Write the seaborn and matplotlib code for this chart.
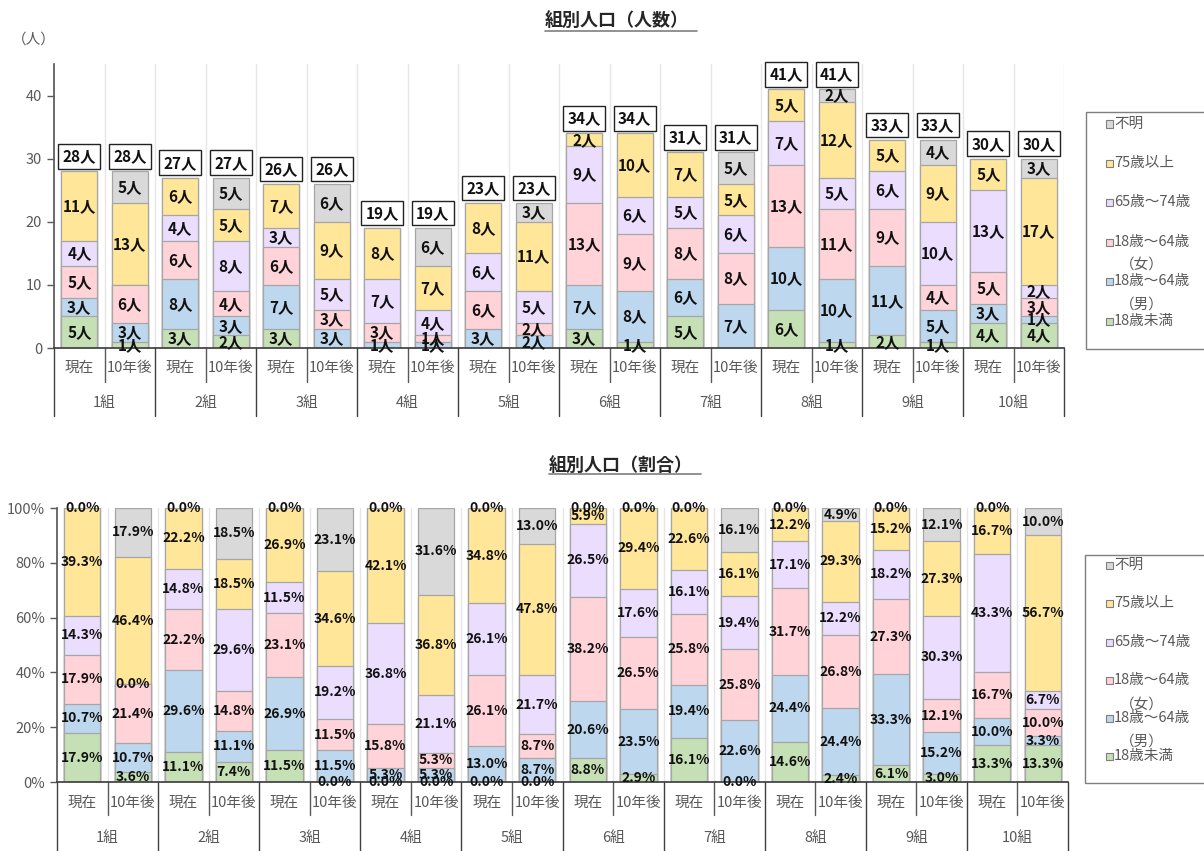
import numpy as np
import matplotlib
matplotlib.use('Agg')
from matplotlib import pyplot as plt
from matplotlib.patches import Rectangle
from matplotlib.lines import Line2D
from matplotlib.ticker import PercentFormatter
import matplotlib.transforms as mtransforms
import seaborn as sns

# ---- data (bars ordered 1組現在, 1組10年後, 2組現在, ...) ----
groups = ['1組', '2組', '3組', '4組', '5組', '6組', '7組', '8組', '9組', '10組']
periods = ['現在', '10年後']
series = ['18歳未満', '18歳～64歳（男）', '18歳～64歳（女）', '65歳～74歳', '75歳以上', '不明']

under18 = [5, 1, 3, 2, 3, 0, 0, 0, 0, 0, 3, 1, 5, 0, 6, 1, 2, 1, 4, 4]
male_18_64 = [3, 3, 8, 3, 7, 3, 1, 1, 3, 2, 7, 8, 6, 7, 10, 10, 11, 5, 3, 1]
female_18_64 = [5, 6, 6, 4, 6, 3, 3, 1, 6, 2, 13, 9, 8, 8, 13, 11, 9, 4, 5, 3]
age65_74 = [4, 0, 4, 8, 3, 5, 7, 4, 6, 5, 9, 6, 5, 6, 7, 5, 6, 10, 13, 2]
age75_over = [11, 13, 6, 5, 7, 9, 8, 7, 8, 11, 2, 10, 7, 5, 5, 12, 5, 9, 5, 17]
unknown = [0, 5, 0, 5, 0, 6, 0, 6, 0, 3, 0, 0, 0, 5, 0, 2, 0, 4, 0, 3]

colors = ['#C5E0B4', '#BDD7EE', '#FFD3D8', '#EADDFD', '#FFE699', '#D9D9D9']
EDGE = '#A6A6A6'
AXC = '#595959'

counts = np.array([under18, male_18_64, female_18_64, age65_74, age75_over, unknown], dtype=float)
totals = counts.sum(axis=0)
shares = counts / totals
bar_ids = [f'{g}{p}' for g in groups for p in periods]

sns.set_theme(style='white')
plt.rcParams['font.family'] = ['Noto Sans CJK JP', 'DejaVu Sans']

W, H = 1204, 851
fig = plt.figure(figsize=(W / 100, H / 100), dpi=100)


def px(x, y):
    return x / W, 1 - y / H


def draw_stacked(ax, values, fmt, show_zero, fs):
    cum = np.cumsum(values, axis=0)
    for k in range(len(series) - 1, -1, -1):
        sns.barplot(x=bar_ids, y=cum[k], order=bar_ids, color=colors[k], saturation=1,
                    width=0.72, edgecolor=EDGE, linewidth=0.9, errorbar=None, ax=ax)
    for k in range(len(series)):
        mid = cum[k] - values[k] / 2
        for i in range(len(bar_ids)):
            if values[k, i] == 0 and not show_zero:
                continue
            ax.text(i, mid[i], fmt(values[k, i]), ha='center', va='center',
                    fontsize=fs, fontweight='bold', color='#111111')
    ax.set_xlim(-0.5, len(bar_ids) - 0.5)
    ax.set_xlabel('')
    ax.set_ylabel('')
    ax.set_xticks([])
    ax.set_xticks(np.arange(0.5, len(bar_ids), 1), minor=True)
    ax.grid(axis='x', which='minor', color='#E6E6E6', lw=1)
    ax.tick_params(axis='x', which='both', length=0, labelbottom=False)
    ax.tick_params(axis='y', length=5, width=1, color=AXC, labelcolor=AXC, labelsize=10.5, left=True)
    for s in ['top', 'right']:
        ax.spines[s].set_visible(False)
    ax.spines['left'].set_color(AXC)
    ax.spines['bottom'].set_color('#404040')
    ax.set_axisbelow(True)


def draw_categories(ax, y_cat, y_grp, y_sep, y_gsep):
    tr = mtransforms.blended_transform_factory(ax.transData, ax.transAxes)
    for i, b in enumerate(bar_ids):
        ax.text(i, y_cat, periods[i % 2], transform=tr, ha='center', va='center',
                fontsize=10.5, color=AXC)
    for g, name in enumerate(groups):
        ax.text(2 * g + 0.5, y_grp, name, transform=tr, ha='center', va='center',
                fontsize=10.5, color=AXC)
        ax.add_line(Line2D([2 * g + 0.5, 2 * g + 0.5], [0, y_sep], transform=tr,
                           color=AXC, lw=1, clip_on=False))
    for g in range(len(groups) + 1):
        ax.add_line(Line2D([2 * g - 0.5, 2 * g - 0.5], [0, y_gsep], transform=tr,
                           color='#404040', lw=1, clip_on=False))


def draw_legend(box, entries_y, second_y):
    x0, y0, x1, y1 = box
    fig.add_artist(Rectangle(px(x0, y1), (x1 - x0) / W, (y1 - y0) / H,
                             transform=fig.transFigure, fc='white', ec='#7F7F7F', lw=1))
    order = list(range(len(series) - 1, -1, -1))
    for yy, k in zip(entries_y, order):
        fig.add_artist(Rectangle(px(1106, yy + 3.5), 7 / W, 7 / H, transform=fig.transFigure,
                                 fc=colors[k], ec='#7F7F7F', lw=0.8))
        name = series[k]
        if '（' in name:
            first, second = name.split('（')
            fig.text(*px(1114, yy), first, ha='left', va='center', fontsize=10.5, color=AXC)
            fig.text(*px(1142, second_y[k]), '（' + second, ha='center', va='center',
                     fontsize=10.5, color=AXC)
        else:
            fig.text(*px(1114, yy), name, ha='left', va='center', fontsize=10.5, color=AXC)


def underlined_title(x, y, text, y_line):
    t = fig.text(*px(x, y), text, ha='center', va='center', fontsize=13,
                 fontweight='bold', color='#262626')
    fig.canvas.draw()
    bb = t.get_window_extent()
    fig.add_artist(Line2D([bb.x0 / W, bb.x1 / W + 8 / W], [1 - y_line / H] * 2,
                          transform=fig.transFigure, color='#7F7F7F', lw=1.2))


# ---- top chart: counts ----
ax1 = fig.add_axes([54 / W, 1 - 348 / H, 1010 / W, 284 / H])
draw_stacked(ax1, counts, lambda v: f'{int(v)}人', False, 11)
ax1.set_ylim(0, 45)
ax1.set_yticks(range(0, 41, 10))
for i, tot in enumerate(totals):
    ax1.annotate(f'{int(tot)}人', (i, tot), xytext=(0, 5), textcoords='offset points',
                 ha='center', va='bottom', fontsize=11, fontweight='bold', color='#111111',
                 bbox=dict(boxstyle='square,pad=0.28', fc='white', ec='#222222', lw=1))
draw_categories(ax1, -0.07, -0.194, -0.12, -0.239)
fig.text(*px(34, 40), '（人）', ha='center', va='center', fontsize=10.5, color=AXC)
underlined_title(617, 20, '組別人口（人数）', 31)
draw_legend((1086, 112, 1215, 349), [124, 163, 202, 242, 281, 321], {2: 265, 1: 305})

# ---- bottom chart: shares ----
ax2 = fig.add_axes([57 / W, 1 - 782 / H, 1011 / W, 274 / H])
draw_stacked(ax2, shares, lambda v: f'{v * 100:.1f}%', True, 10)
ax2.set_ylim(0, 1)
ax2.set_yticks(np.arange(0, 1.01, 0.2))
ax2.yaxis.set_major_formatter(PercentFormatter(1.0, decimals=0))
draw_categories(ax2, -0.077, -0.204, -0.12, -0.26)
underlined_title(621, 465, '組別人口（割合）', 474)
draw_legend((1085, 555, 1215, 783), [565, 603, 642, 680, 718, 756], {2: 705, 1: 742})

fig.savefig('out.png', dpi=100)
